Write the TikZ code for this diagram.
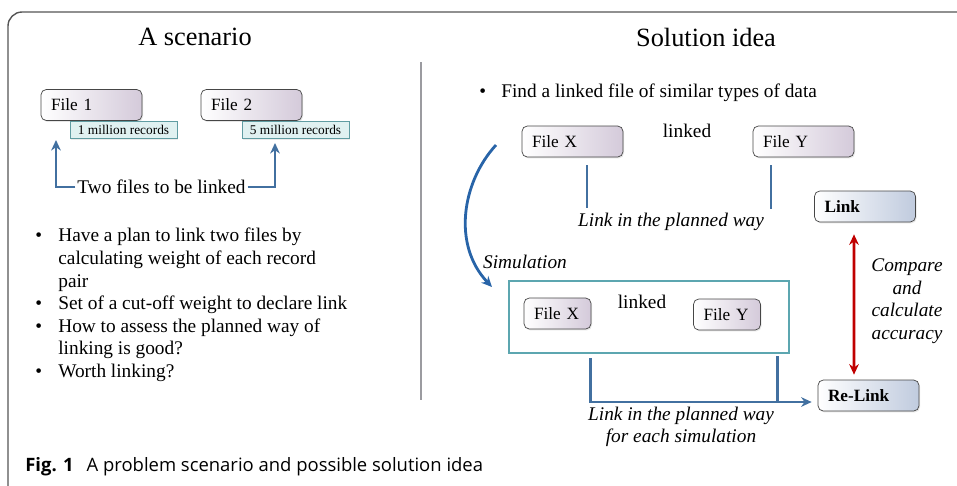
\documentclass[tikz,border=0pt]{standalone}
\usepackage{fontspec}
\setmainfont{Liberation Serif}
\newfontfamily\capfont{Open Sans}
\usepackage{tikz}
\usetikzlibrary{arrows.meta,positioning,shadows}
\definecolor{linkblue}{RGB}{66,112,160}
\definecolor{curveblue}{RGB}{40,100,168}
\definecolor{tealframe}{RGB}{92,166,176}
\definecolor{recfill}{RGB}{224,241,241}
\definecolor{recdraw}{RGB}{96,156,162}
\definecolor{lavender}{RGB}{212,202,218}
\definecolor{linkfill}{RGB}{192,203,222}
\definecolor{accred}{RGB}{192,0,0}
\definecolor{framegray}{RGB}{85,85,85}
\definecolor{divgray}{RGB}{155,155,160}

\begin{document}
\begin{tikzpicture}[
    x=0.02cm, y=-0.02cm,
    node distance=0.3cm,
    filebox/.style={
        rectangle,
        rounded corners=3pt,
        draw=gray!55!black,
        left color=white,
        right color=lavender,
        align=left,
        text width=1.62cm,
        inner xsep=0.2cm,
        minimum height=0.62cm,
        drop shadow={opacity=0.2, shadow xshift=0.6pt, shadow yshift=-0.8pt},
        font=\fontsize{9.8}{11}\selectfont
    },
    simbox/.style={
        filebox,
        text width=0.94cm
    },
    linkbox/.style={
        filebox,
        right color=linkfill,
        font=\fontsize{9.8}{11}\selectfont\bfseries
    },
    recbox/.style={
        rectangle,
        draw=recdraw,
        fill=recfill,
        minimum width=2.14cm,
        minimum height=0.34cm,
        inner sep=0pt,
        drop shadow={opacity=0.15, shadow xshift=0.5pt, shadow yshift=-0.6pt},
        font=\fontsize{7.6}{9}\selectfont
    },
    title/.style={font=\fontsize{15}{18}\selectfont},
    body/.style={font=\fontsize{11}{12.85}\selectfont, inner sep=0pt},
    note/.style={font=\fontsize{11}{12.85}\selectfont\itshape, align=center, inner sep=1pt},
    arrow/.style={-{Stealth[length=6pt,width=5.5pt]}, line width=1.6pt, linkblue},
    plain/.style={line width=1.6pt, linkblue},
    redarrow/.style={{Stealth[length=6pt,width=5.5pt]}-{Stealth[length=6pt,width=5.5pt]}, line width=1.6pt, accred}
]
\useasboundingbox (0,0) rectangle (957,485);

% Frame and divider
\draw[framegray, line width=0.8pt, rounded corners=8pt] (957,12) -- (8,12) -- (8,490);
\draw[divgray, line width=1.4pt] (421,62) -- (421,400);

% Left half: a scenario
\node[title] (ttlscen) at (195,37) {A scenario};

\node[filebox] (file1) at (91.5,105) {File 1};
\node[recbox] (rec1) at (123.5,130) {1 million records};
\node[filebox] (file2) at (251.5,105) {File 2};
\node[recbox] (rec2) at (295.5,130) {5 million records};

\node[body, inner sep=1pt] (twofiles) at (161.5,187) {Two files to be linked};
\coordinate (tip1) at (56,140);
\coordinate (tip2) at (275,143);
\draw[arrow] (twofiles.west) -| (tip1);
\draw[arrow] (twofiles.east) -| (tip2);

\node[body, anchor=north west, align=left] (plan) at (35,228) {%
\makebox[0.46cm][l]{\textbullet}Have a plan to link two files by\\
\hspace*{0.46cm}calculating weight of each record\\
\hspace*{0.46cm}pair\\
\makebox[0.46cm][l]{\textbullet}Set of a cut-off weight to declare link\\
\makebox[0.46cm][l]{\textbullet}How to assess the planned way of\\
\hspace*{0.46cm}linking is good?\\
\makebox[0.46cm][l]{\textbullet}Worth linking?};

% Right half: solution idea
\node[title] (ttlsol) at (706,37) {Solution idea};
\node[body, anchor=north west] (find) at (479,84) {\makebox[0.44cm][l]{\textbullet}Find a linked file of similar types of data};

\node[filebox] (filex) at (572.5,141.5) {File X};
\node[filebox] (filey) at (803.5,141.5) {File Y};
\node[body] (linked) at (687,131) {linked};
\draw[plain] ([xshift=0.29cm,yshift=-0.16cm]filex.south) -- ++(0,43);
\draw[plain] ([xshift=-0.65cm,yshift=-0.16cm]filey.south) -- ++(0,44);
\node[note] (planned) at (671,222) {Link in the planned way};

\node[linkbox] (link) at (865,206.5) {Link};

\coordinate (simstart) at (496,145);
\coordinate (simend) at (492,287);
\draw[-{Stealth[length=6pt,width=5.5pt]}, line width=1.6pt, curveblue]
    (simstart) .. controls (462,182) and (452,245) .. (simend);
\node[note] (sim) at (525,262) {Simulation};

\node[draw=tealframe, line width=1.3pt, minimum width=5.6cm, minimum height=1.44cm] (simframe) at (649,317) {};
\node[simbox] (simx) at (557.5,313.5) {File X};
\node[simbox] (simy) at (727,314.5) {File Y};
\node[body] (linked2) at (642,302) {linked};

\node[linkbox] (relink) at (868.5,395.5) {Re-Link};

\draw[arrow] ([xshift=1.66cm,yshift=-0.08cm]simframe.south west) |- ([xshift=-0.12cm,yshift=-0.13cm]relink.west);
\draw[plain] ([xshift=-0.26cm,yshift=-0.04cm]simframe.south east) -- ++(0,47);
\node[note] (planned2) at (681,427) {Link in the planned way\\for each simulation};

\draw[redarrow] ([xshift=-0.22cm,yshift=-0.24cm]link.south) -- ([xshift=-0.29cm,yshift=0.1cm]relink.north);
\node[note] (compare) at (907,301) {Compare\\and\\calculate\\accuracy};

% Caption
\node[anchor=west, inner sep=0pt, font=\capfont\fontsize{10.5}{12}\selectfont] (caption) at (25,467)
    {\textbf{Fig. 1}\hspace{0.7em}A problem scenario and possible solution idea};

\end{tikzpicture}
\end{document}
